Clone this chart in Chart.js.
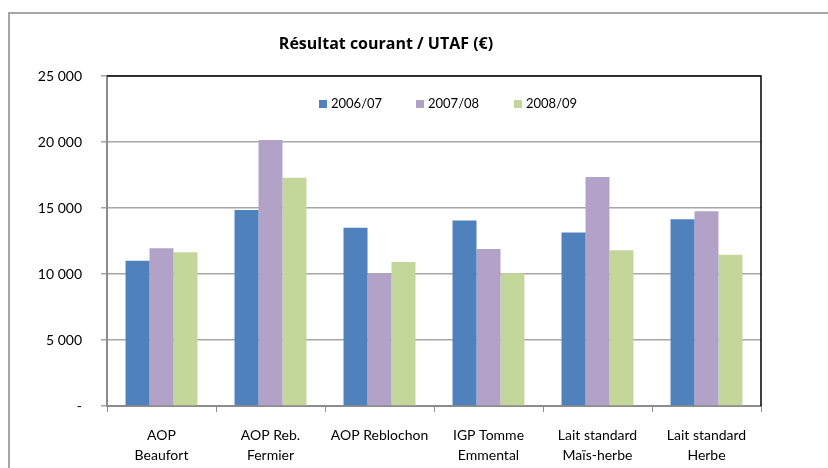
<!DOCTYPE html>
<html><head><meta charset="utf-8">
<script src="https://cdn.jsdelivr.net/npm/chart.js@4/dist/chart.umd.min.js"></script>
<style>html,body{margin:0;padding:0;background:#fff}#wrap{width:828px;height:468px;position:relative}</style>
</head><body><div id="wrap"><canvas id="c" width="828" height="468"></canvas></div>
<script>
const categories = [["AOP","Beaufort"],["AOP Reb.","Fermier"],["AOP Reblochon"],["IGP Tomme","Emmental"],["Lait standard","Maïs-herbe"],["Lait standard","Herbe"]];
const seriesNames = ["2006/07","2007/08","2008/09"];
const s2006 = [11000,14850,13500,14050,13150,14150];
const s2007 = [11950,20150,10000,11900,17350,14750];
const s2008 = [11650,17300,10900,10050,11800,11450];
const colors = ["#4F81BD","#B3A2C7","#C4D79B"];
const yTicks = [0,5000,10000,15000,20000,25000];
const titleText = "Résultat courant / UTAF (€)";
const FONT = "Lato, 'Open Sans', sans-serif";

const framePlugin = {
  id:'frame',
  beforeDraw(chart){
    const ctx = chart.ctx;
    ctx.save();
    ctx.fillStyle = '#fff';
    ctx.fillRect(0,0,chart.width,chart.height);
    ctx.strokeStyle = '#a6a6a6';
    ctx.lineWidth = 2;
    ctx.beginPath();
    ctx.moveTo(9,468); ctx.lineTo(9,13); ctx.lineTo(828,13);
    ctx.stroke();
    ctx.fillStyle = '#000';
    ctx.font = "bold 16px 'Open Sans', sans-serif";
    ctx.textAlign = 'center';
    ctx.textBaseline = 'middle';
    ctx.fillText(titleText, 386, 44);
    ctx.restore();
  },
  afterDatasetsDraw(chart){
    const a = chart.chartArea, ctx = chart.ctx;
    ctx.save();
    ctx.strokeStyle = '#000';
    ctx.lineWidth = 1.5;
    ctx.beginPath();
    ctx.moveTo(a.left, a.top); ctx.lineTo(a.right, a.top); ctx.lineTo(a.right, a.bottom);
    ctx.stroke();
    // legend inside plot area
    const xs = [319, 416, 514];
    ctx.font = "13px " + FONT;
    ctx.textBaseline = 'middle';
    ctx.textAlign = 'left';
    chart.data.datasets.forEach((ds, i) => {
      ctx.fillStyle = ds.backgroundColor;
      ctx.fillRect(xs[i], 100, 8, 8);
      ctx.fillStyle = '#000';
      ctx.fillText(ds.label, xs[i] + 12, 104);
    });
    ctx.restore();
  }
};

new Chart(document.getElementById('c'), {
  type:'bar',
  data:{
    labels: categories,
    datasets:[
      {label:seriesNames[0], data:s2006, backgroundColor:colors[0]},
      {label:seriesNames[1], data:s2007, backgroundColor:colors[1]},
      {label:seriesNames[2], data:s2008, backgroundColor:colors[2]}
    ]
  },
  options:{
    responsive:false,
    animation:false,
    devicePixelRatio:1,
    layout:{padding:{left:0,right:67,top:76,bottom:0}},
    datasets:{bar:{categoryPercentage:0.66,barPercentage:1.0,borderWidth:0}},
    plugins:{
      title:{display:false},
      tooltip:{enabled:false},
      legend:{display:false}
    },
    scales:{
      x:{
        grid:{display:true,drawOnChartArea:false,drawTicks:true,tickLength:6,color:'#8c8c8c',offset:true},
        border:{display:true,color:'#8c8c8c',width:2},
        ticks:{color:'#000',font:{family:FONT,size:14,lineHeight:1.43},padding:13,maxRotation:0,autoSkip:false},
        afterFit(s){ s.height = 62; }
      },
      y:{
        min:0,max:25000,
        afterBuildTicks(s){ s.ticks = yTicks.map(v=>({value:v})); },
        grid:{color:'#a6a6a6',lineWidth:1.5,drawTicks:true,tickLength:6},
        border:{display:true,color:'#8c8c8c',width:2},
        ticks:{color:'#000',font:{family:FONT,size:14},padding:19,
          callback(v){ return v===0 ? '-' : String(v).replace(/\B(?=(\d{3})+(?!\d))/g,' '); }},
        afterFit(s){ s.width = 107; }
      }
    }
  },
  plugins:[framePlugin]
});
</script></body></html>
